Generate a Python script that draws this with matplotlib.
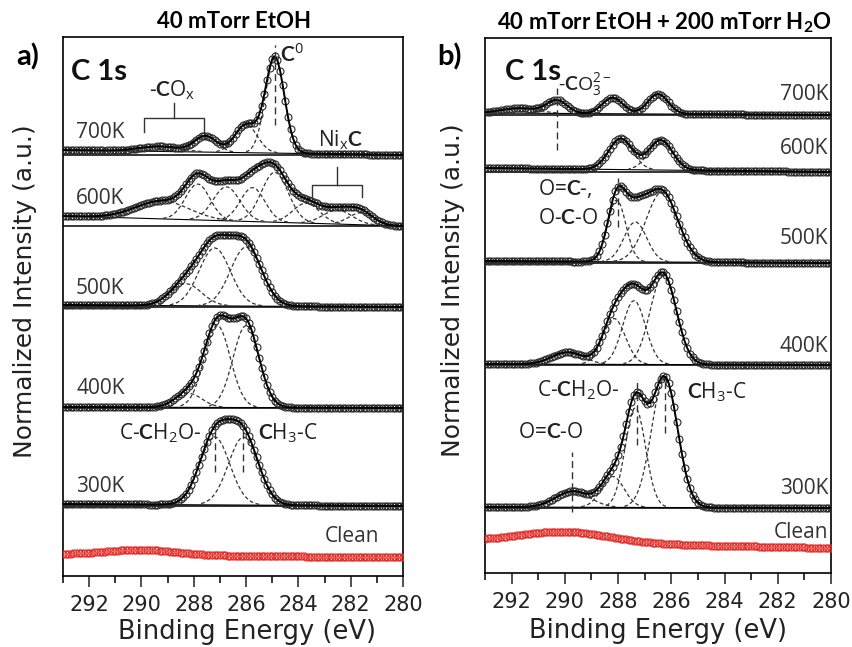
import numpy as np
import matplotlib.pyplot as plt

plt.rcParams.update({
    "font.family": "DejaVu Sans",
    "mathtext.fontset": "custom",
    "mathtext.rm": "Open Sans",
    "mathtext.bf": "Lato:bold",
    "mathtext.it": "Open Sans:italic",
})

# binding energies of the measured points (eV)
energy = np.round(np.arange(280.0, 293.0001, 0.1), 2)
labels = ["700K", "600K", "500K", "400K", "300K", "Clean"]

# ---- panel a: 40 mTorr EtOH ----
# linear background (value at 293 eV, value at 280 eV), fitted peaks
a_bkg = [(5, 0), (10, 0), (2, 0), (1, 0), (2, 0), (22, 18.5)]
a_center = [
    [289.3, 287.55, 286.0, 284.9],
    [289.2, 287.85, 286.75, 285.75, 284.9, 283.7, 282.5, 281.6],
    [288.3, 287.2, 286.0],
    [288.2, 287.1, 286.0],
    [287.2, 286.1],
    [290.0],
]
a_height = [
    [5, 16, 28, 96],
    [18, 36, 34, 34, 50, 20, 14, 12],
    [22, 58, 59],
    [14, 82, 82],
    [68, 68],
    [5],
]
a_fwhm = [
    [1.8, 1.0, 1.0, 0.85],
    [2.4, 1.1, 1.2, 1.1, 1.2, 1.2, 1.3, 1.1],
    [1.4, 1.4, 1.4],
    [1.2, 1.17, 1.17],
    [1.35, 1.35],
    [3.0],
]

# ---- panel b: 40 mTorr EtOH + 200 mTorr H2O ----
b_bkg = [(2, 0), (4, 0), (2, 0), (1, 0), (1, 0), (32, 25)]
b_center = [
    [291.7, 290.3, 288.2, 286.5],
    [287.9, 286.4],
    [288.05, 287.35, 286.35],
    [289.9, 288.15, 287.4, 286.3],
    [289.7, 288.2, 287.35, 286.25],
    [290.0],
]
b_height = [
    [5, 13, 16, 20],
    [31, 30],
    [62, 40, 70],
    [12, 46, 64, 90],
    [16, 31, 100, 130],
    [11],
]
b_fwhm = [
    [1.6, 0.9, 0.9, 0.9],
    [1.05, 1.05],
    [0.8, 1.0, 1.4],
    [1.4, 1.0, 1.0, 1.15],
    [1.5, 1.0, 0.9, 1.15],
    [4.0],
]

# peak positions marked with dashed drop lines
a_marks = [284.9, 287.2, 286.1]
b_marks = [290.3, 288.0, 289.74, 287.28, 286.23]

# layout: bottom of each stripe and top of each panel (same units as intensity)
a_offset = [421, 350, 269, 168, 70, 0]
a_top = 539
b_offset = [458, 401, 310, 208, 65, 0]
b_top = 535

RED = "#e2302c"
PT = "#2b2b2b"
FONT = "Open Sans"
BOLD = "Lato"
LAB = dict(family=FONT, color="#333333", fontsize=15)
ANN = dict(family=FONT, color="#222222", fontsize=15)


def draw_panel(ax, offsets, top, bkg, centers, heights, fwhms):
    for i, lab in enumerate(labels):
        b0, b1 = bkg[i]
        base = b1 + (b0 - b1) * (energy - 280.0) / 13.0
        comps = [h * np.exp(-4 * np.log(2) * ((energy - c) / w) ** 2)
                 for c, h, w in zip(centers[i], heights[i], fwhms[i])]
        total = base + np.sum(comps, axis=0)
        off = offsets[i]
        if lab == "Clean":
            ax.plot(energy, off + total, "o", ms=5, mfc="none", mec=RED,
                    mew=0.9, zorder=3)
            continue
        ax.plot(energy, off + base, color="k", lw=0.8, zorder=2)
        for comp in comps:
            m = comp > 0.5
            ax.plot(energy[m], off + base[m] + comp[m], ls=(0, (3, 2)),
                    color="#333333", lw=0.9, zorder=2)
        ax.plot(energy, off + total, "o", ms=5, mfc="none", mec=PT,
                mew=0.8, zorder=3)
        ax.plot(energy, off + total, color="k", lw=1.4, zorder=4)
        ax.axhline(off, color="k", lw=1.1, zorder=1)

    ax.set_xlim(293, 280)
    ax.set_ylim(0, top)
    ax.set_yticks([])
    ax.set_xticks(np.arange(280, 293, 2))
    ax.set_xticks(np.arange(281, 294, 2), minor=True)
    ax.tick_params(axis="x", which="major", direction="out", length=8,
                   width=1.1, labelsize=15, pad=6, colors="#222222")
    ax.tick_params(axis="x", which="minor", direction="out", length=5,
                   width=1.1)
    for s in ax.spines.values():
        s.set_linewidth(1.2)


def dropline(ax, e, y0, y1):
    ax.plot([e, e], [y0, y1], ls=(0, (5, 3)), color="#333333", lw=1.0,
            zorder=5)


def bracket(ax, e_left, e_right, e_mid, y, y_end, y_stem):
    ax.plot([e_left, e_left, e_right, e_right], [y_end, y, y, y_end],
            color="#333333", lw=1.0)
    ax.plot([e_mid, e_mid], [y, y_stem], color="#333333", lw=1.0)


fig = plt.figure(figsize=(8.53, 6.47), dpi=100)
W, H = 853, 647


def box(l, t, r, b):
    return [l / W, 1 - b / H, (r - l) / W, (b - t) / H]


ax_a = fig.add_axes(box(63, 37, 403, 576))
ax_b = fig.add_axes(box(485, 38, 831, 573))

draw_panel(ax_a, a_offset, a_top, a_bkg, a_center, a_height, a_fwhm)
draw_panel(ax_b, b_offset, b_top, b_bkg, b_center, b_height, b_fwhm)

# ---- panel a annotations ----
ax_a.text(292.69, 504, "C 1s", family=BOLD, fontweight="bold",
          fontsize=21, ha="left", va="center", color="#111111")
ax_a.text(288.82, 486, r"-$\mathbf{C}$O$_\mathrm{x}$", ha="center",
          va="center", **ANN)
bracket(ax_a, 289.89, 287.59, 288.74, 458, 444, 473)
ax_a.text(284.72, 521, r"$\mathbf{C}^\mathrm{0}$", ha="left", va="center",
          **ANN)
dropline(ax_a, a_marks[0], 451, 531)
ax_a.text(282.38, 436, r"Ni$_\mathrm{x}$$\mathbf{C}$", ha="center",
          va="center", **ANN)
bracket(ax_a, 283.49, 281.58, 282.54, 391, 379, 409)
ax_a.text(287.71, 143, r"C-$\mathbf{C}$H$_2$O-", ha="right", va="center",
          **ANN)
ax_a.text(285.56, 143, r"$\mathbf{C}$H$_3$-C", ha="left", va="center",
          **ANN)
dropline(ax_a, a_marks[1], 104, 151)
dropline(ax_a, a_marks[2], 104, 151)
for lab, y in zip(labels[:5], [444, 378, 288, 188, 90]):
    ax_a.text(292.5, y, lab, ha="left", va="center", **LAB)
ax_a.text(280.89, 39, "Clean", ha="right", va="center", **LAB)

# ---- panel b annotations ----
ax_b.text(292.26, 501, "C 1s", family=BOLD, fontweight="bold",
          fontsize=21, ha="left", va="center", color="#111111")
ax_b.text(290.26, 488, r"-$\mathbf{C}$O$_3^{2-}$", ha="left", va="center",
          family=FONT, color="#222222", fontsize=14)
dropline(ax_b, b_marks[0], 423, 485)
ax_b.text(291.02, 385, r"O=$\mathbf{C}$-,", ha="left", va="center", **ANN)
ax_b.text(291.02, 355, r"O-$\mathbf{C}$-O", ha="left", va="center", **ANN)
dropline(ax_b, b_marks[1], 346, 395)
ax_b.text(291.06, 183, r"C-$\mathbf{C}$H$_2$O-", ha="left", va="center",
          **ANN)
ax_b.text(285.4, 181, r"$\mathbf{C}$H$_3$-C", ha="left", va="center", **ANN)
ax_b.text(291.77, 140, r"O=$\mathbf{C}$-O", ha="left", va="center", **ANN)
dropline(ax_b, b_marks[2], 61, 121)
dropline(ax_b, b_marks[3], 128, 193)
dropline(ax_b, b_marks[4], 140, 193)
for lab, y in zip(labels, [478, 425, 335, 226, 85, 41]):
    ax_b.text(280.11, y, lab, ha="right", va="center", **LAB)

# ---- figure level labels ----
def ftext(x, y, s, **kw):
    fig.text(x / W, 1 - y / H, s, **kw)


ftext(234, 22, "40 mTorr EtOH", family=BOLD, fontweight="bold",
      fontsize=16, ha="center", va="center")
ftext(664, 23, r"40 mTorr EtOH + 200 mTorr H$_\mathbf{2}$O", family=BOLD,
      fontweight="bold", fontsize=16, ha="center", va="center")
ftext(28, 57, "a)", family=BOLD, fontweight="bold", fontsize=21,
      ha="center", va="center")
ftext(450, 57, "b)", family=BOLD, fontweight="bold", fontsize=21,
      ha="center", va="center")
ftext(247, 632, "Binding Energy (eV)", fontsize=18.5, ha="center",
      va="center", color="#222222")
ftext(658, 631, "Binding Energy (eV)", fontsize=18.5, ha="center",
      va="center", color="#222222")
ftext(25, 291, "Normalized Intensity (a.u.)", fontsize=18, rotation=90,
      ha="center", va="center", color="#222222")
ftext(453, 290, "Normalized Intensity (a.u.)", fontsize=18, rotation=90,
      ha="center", va="center", color="#222222")

fig.savefig("out.png", dpi=100)
